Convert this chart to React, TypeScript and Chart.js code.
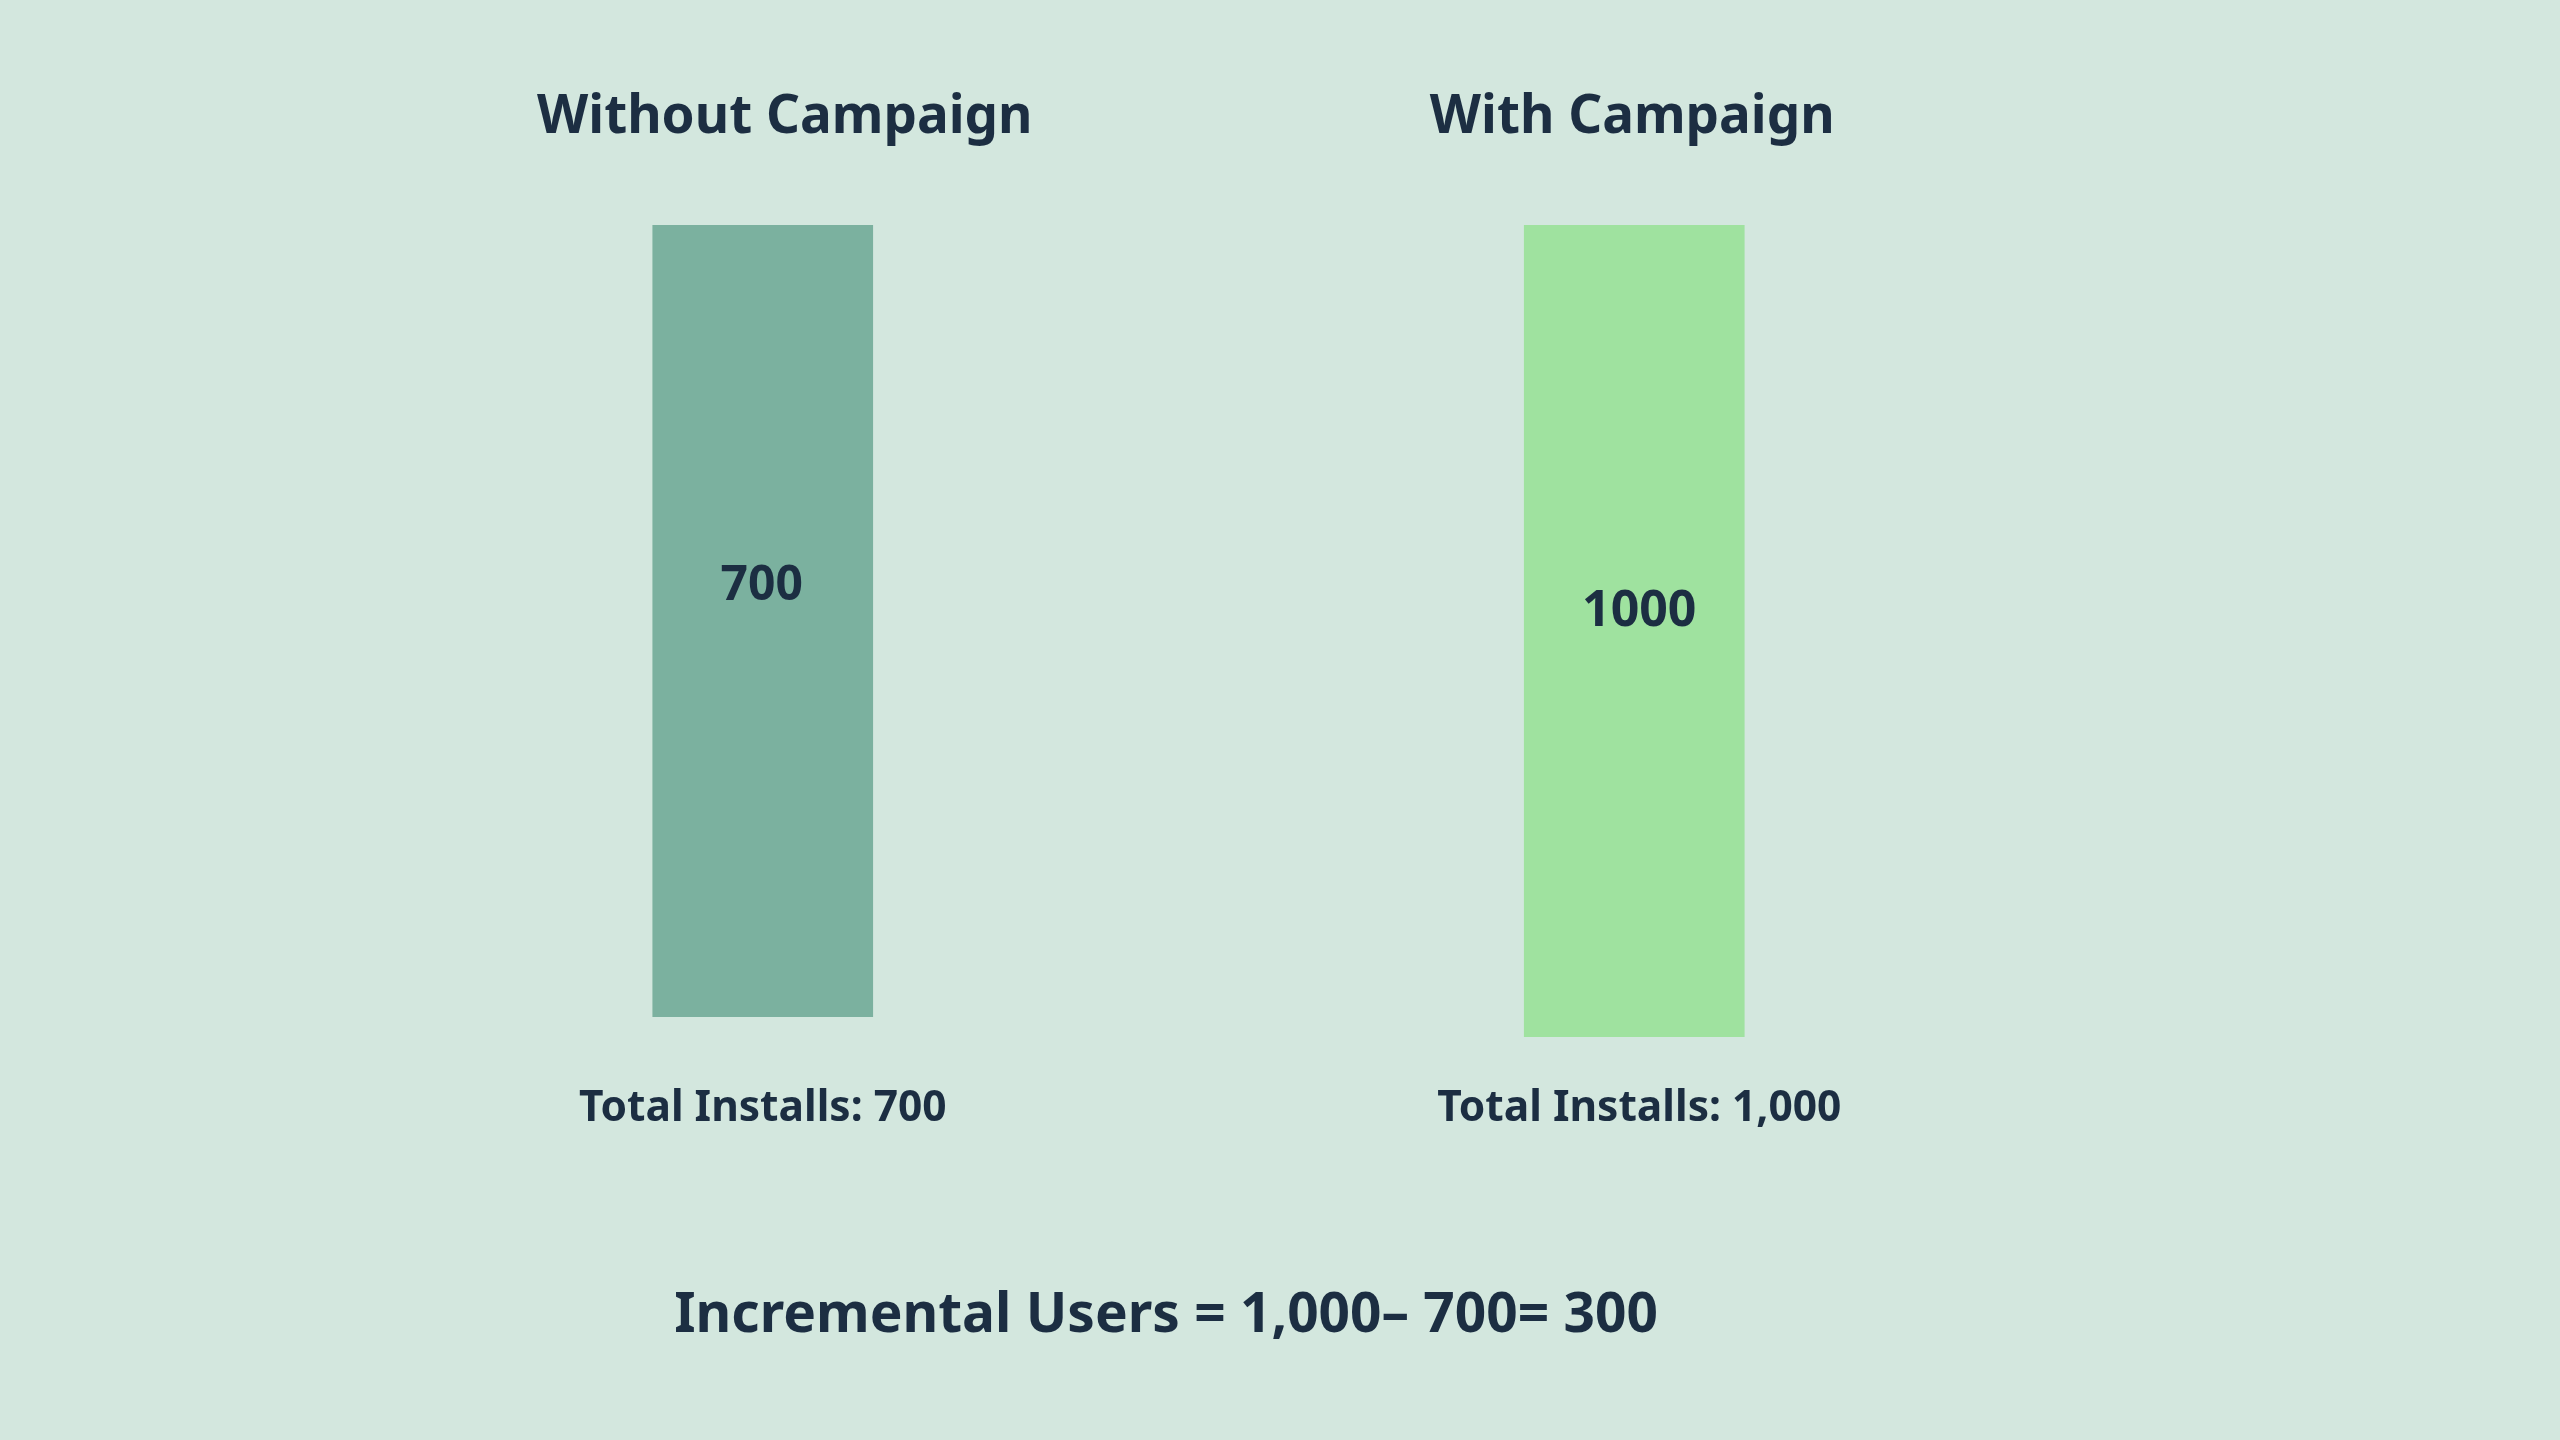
import React, { useEffect, useRef } from "react";
import { Chart, registerables } from "chart.js";

Chart.register(...registerables);

// ---- data ----
const categories = ["Without Campaign", "With Campaign"];
const installs = [700, 1000];
const valueLabels = ["700", "1000"];
const totalLabels = ["Total Installs: 700", "Total Installs: 1,000"];
// visual bar spans as drawn in the infographic (arbitrary units, not to scale with installs)
const barSpans: [number, number][] = [
  [2.5, 100],
  [0, 100],
];
const formulaText = "Incremental Users = 1,000\u2013 700= 300";

const BG = "#d3e7de";
const TEXT = "#1c2e42";
const barColors = ["#7bb19f", "#9fe29f"];
const FONT = "'Noto Sans', 'Open Sans', sans-serif";

const textPlugin = {
  id: "infographicText",
  afterDatasetsDraw(chart: any) {
    const { ctx } = chart;
    const x = chart.scales.x;
    const y = chart.scales.y;
    ctx.save();
    ctx.fillStyle = TEXT;
    ctx.textAlign = "center";
    ctx.textBaseline = "alphabetic";
    const titleDx = [22, -2];
    const valueDx = [-1, 5];
    const totalDx = [0, 5];
    const valueY = [55.9, 52.7];
    categories.forEach((c, i) => {
      const cx = x.getPixelForValue(i);
      ctx.font = `700 53px ${FONT}`;
      ctx.fillText(c, cx + titleDx[i], 133);
      ctx.font = `700 ${i === 0 ? 48 : 50}px ${FONT}`;
      ctx.fillText(valueLabels[i], cx + valueDx[i], y.getPixelForValue(valueY[i]) + 17);
      ctx.font = `700 42.5px ${FONT}`;
      ctx.fillText(totalLabels[i], cx + totalDx[i], 1121);
    });
    ctx.font = `700 55px ${FONT}`;
    ctx.fillText(formulaText, 1166, 1332);
    ctx.restore();
  },
};

export default function App() {
  const ref = useRef<HTMLCanvasElement | null>(null);
  useEffect(() => {
    if (!ref.current) return;
    const chart = new Chart(ref.current, {
      type: "bar",
      data: {
        labels: categories,
        datasets: [
          {
            label: "Installs",
            data: barSpans as any,
            backgroundColor: barColors,
            borderWidth: 0,
            barThickness: 220,
          },
        ],
      },
      options: {
        responsive: false,
        animation: false,
        layout: { padding: { left: 327, right: 490, top: 225, bottom: 403 } },
        plugins: {
          legend: { display: false },
          tooltip: { enabled: false },
          title: { display: false },
        },
        scales: {
          x: { type: "category", display: false, grid: { display: false } },
          y: { type: "linear", display: false, min: 0, max: 100 },
        },
      },
      plugins: [textPlugin],
    });
    void installs;
    return () => chart.destroy();
  }, []);
  return (
    <div
      style={{
        position: "fixed",
        left: 0,
        top: 0,
        width: 2560,
        height: 1440,
        background: BG,
      }}
    >
      <canvas ref={ref} width={2560} height={1440} style={{ width: 2560, height: 1440, display: "block" }} />
    </div>
  );
}
